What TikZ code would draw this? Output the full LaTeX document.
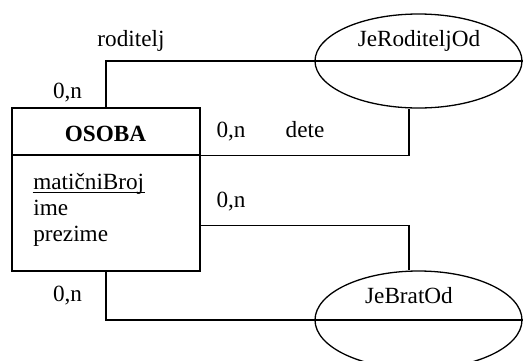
\documentclass[tikz,border=0pt]{standalone}
\usepackage{fontspec}
\setmainfont{Liberation Serif}
\usetikzlibrary{shapes.geometric}
\begin{document}
\begin{tikzpicture}[x=1pt,y=-1pt, line width=1.3pt,
  every node/.style={font=\fontsize{23.2}{28}\selectfont},
  txt/.style={inner sep=0pt, anchor=base},
  attr/.style={inner sep=0pt, anchor=base west},
  rel/.style={draw, ellipse, minimum width=207pt, inner sep=0pt},
  ent/.style={draw, rectangle, minimum width=188pt, inner sep=0pt}]
\useasboundingbox (0,0) rectangle (523,360);
% entity
\node[ent, minimum height=47pt] (head) at (106,131.5) {};
\node[ent, minimum height=116pt] (body) at (106,213) {};
\node[txt] (osoba) at (105.5,141) {\bfseries OSOBA};
\node[attr] (mb) at (32.7,189) {matičniBroj};
\node[attr] (ime) at (32.7,215) {ime};
\node[attr] (prez) at (32.7,241) {prezime};
\draw[line width=1pt] ([yshift=-3pt]mb.base west) -- ([yshift=-3pt]mb.base east);
% relationships
\node[rel, minimum height=94pt] (rod) at (418.5,61) {};
\node[rel, minimum height=98pt] (bro) at (418.5,320) {};
\node[txt] (rodt) at (419,46) {JeRoditeljOd};
\node[txt] (brot) at (409,303) {JeBratOd};
% connectors
\draw (head.north) |- (rod.east);
\draw (head.south east) -| ([xshift=-9.5pt]rod.south);
\draw ([yshift=-71pt]body.north east) -| ([xshift=-9.5pt]bro.north);
\draw (body.south) |- (bro.east);
% labels
\node[txt] (lrod) at (131,46) {roditelj};
\node[txt] (c1) at (67.5,98) {0,n};
\node[txt] (c2) at (231,137) {0,n};
\node[txt] (ldete) at (305,137) {dete};
\node[txt] (c3) at (231,207) {0,n};
\node[txt] (c4) at (67.5,301) {0,n};
\end{tikzpicture}
\end{document}
